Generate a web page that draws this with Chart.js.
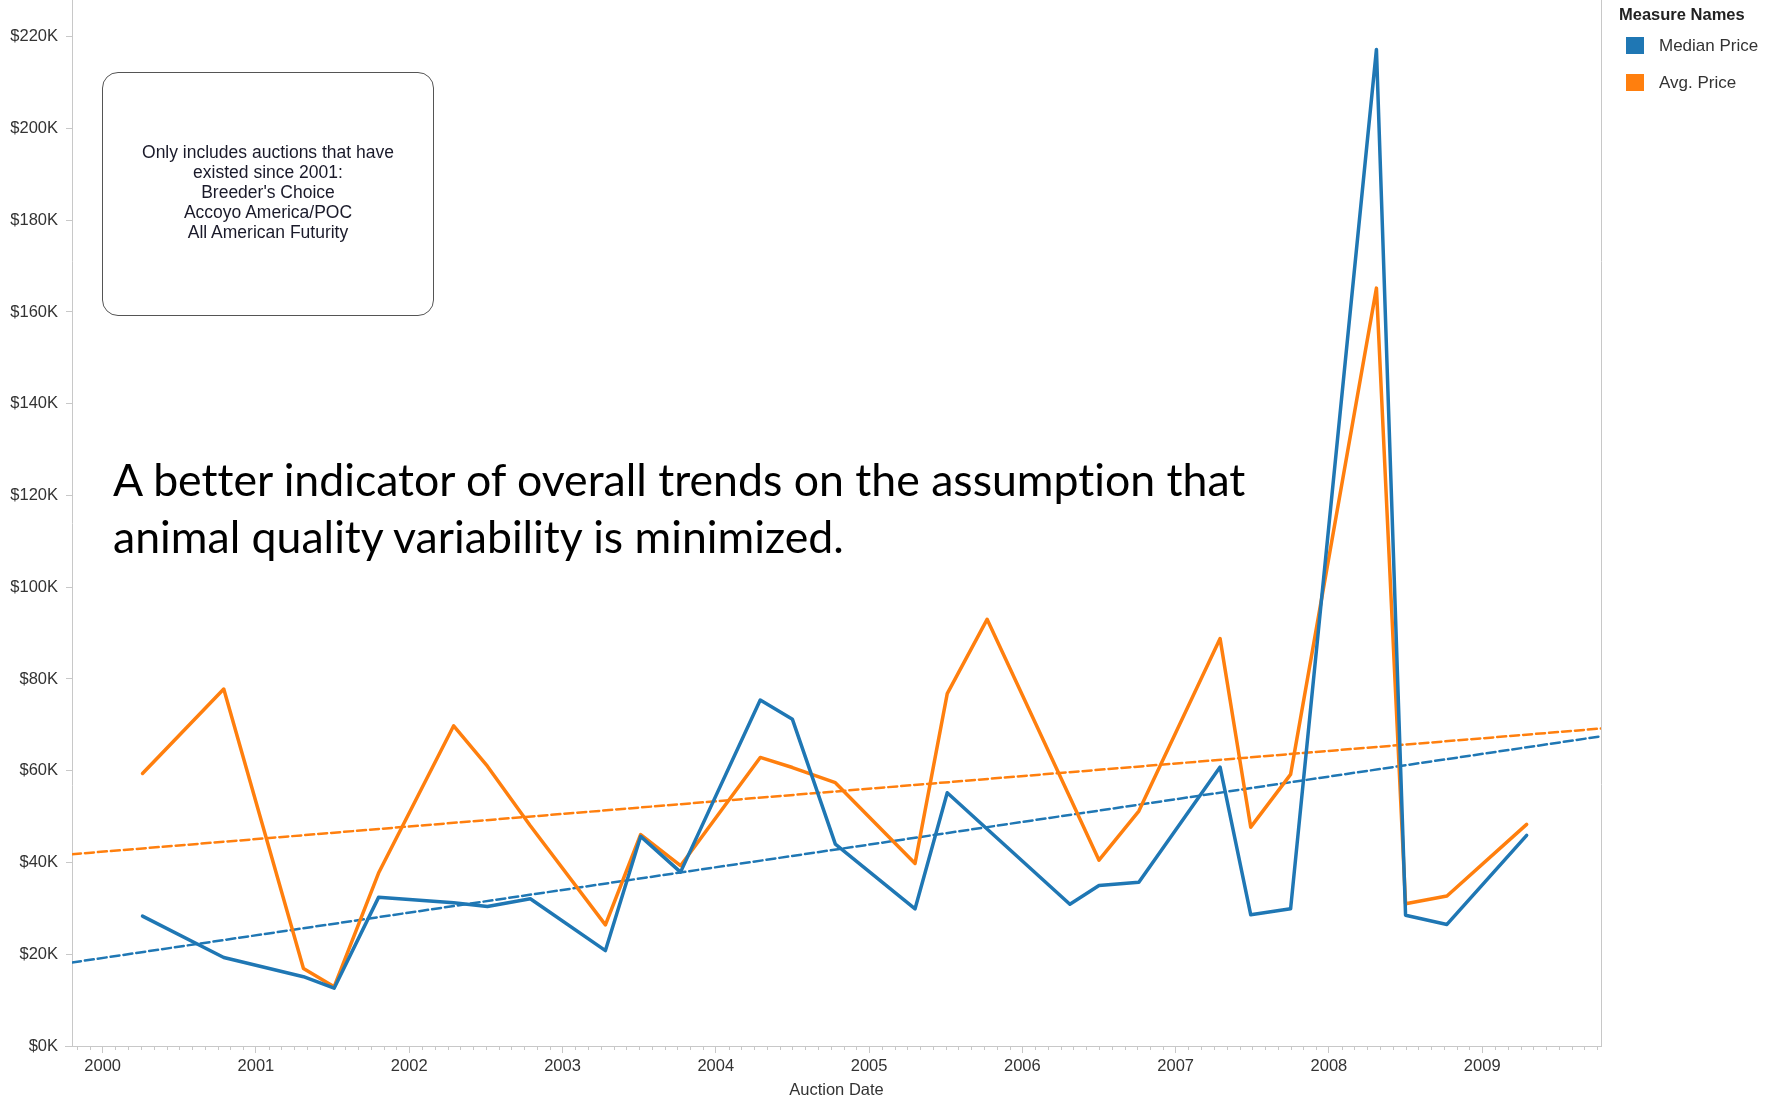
<!DOCTYPE html>
<html>
<head>
<meta charset="utf-8">
<script src="https://cdn.jsdelivr.net/npm/chart.js@4.4.1/dist/chart.umd.min.js"></script>
<style>
  html, body { margin: 0; padding: 0; background: #fff; }
  #wrap { position: relative; width: 1781px; height: 1101px; overflow: hidden; }
  #chart { position: absolute; left: 0; top: 0; }
  .note-box { position: absolute; left: 102px; top: 72px; width: 332px; height: 244px; box-sizing: border-box;
              border: 1.5px solid #555; border-radius: 16px; }
  .note-text { position: absolute; left: 102px; top: 142px; width: 332px; text-align: center;
               font: 17.5px 'Liberation Sans', Arial, sans-serif; line-height: 20px; color: #1a1a2a; }
  .big { position: absolute; left: 113px; font-family: Lato, 'Open Sans', sans-serif; color: #000; white-space: nowrap;
         font-variant-ligatures: none; font-feature-settings: "liga" 0; }
  .legend-title { position: absolute; left: 1619px; top: 4px; font: bold 16.5px 'Liberation Sans', Arial, sans-serif;
                  line-height: 20px; color: #222; }
  .legend-item { position: absolute; left: 1626px; height: 18px; font: 17px 'Liberation Sans', Arial, sans-serif;
                 line-height: 18px; color: #333; white-space: nowrap; }
  .legend-item span { display: inline-block; width: 18px; height: 17px; vertical-align: top; margin-right: 15px; }
</style>
</head>
<body>
<div id="wrap">
  <canvas id="chart" width="1781" height="1101"></canvas>
  <div class="note-box"></div>
  <div class="note-text">Only includes auctions that have<br>existed since 2001:<br>Breeder's Choice<br>Accoyo America/POC<br>All American Futurity</div>
  <div class="big" id="big1">A better indicator of overall trends on the assumption that</div>
  <div class="big" id="big2">animal quality variability is minimized.</div>
  <div class="legend-title">Measure Names</div>
  <div id="legend"></div>
</div>
<script>
// auction dates as decimal years
const auctionDates = [2000.26, 2000.79, 2001.31, 2001.51, 2001.80, 2002.29, 2002.51, 2002.79, 2003.28,
                      2003.51, 2003.77, 2004.29, 2004.50, 2004.78, 2005.30, 2005.51, 2005.77, 2006.31,
                      2006.50, 2006.76, 2007.29, 2007.49, 2007.75, 2008.31, 2008.50, 2008.77, 2009.29];
const medianPrice = [28300, 19300, 15100, 12600, 32400, 31200, 30400, 32100, 20800,
                     45700, 37900, 75400, 71200, 44000, 29900, 55200, 47300, 30900,
                     35000, 35700, 60800, 28600, 29900, 217200, 28500, 26500, 45900];
const avgPrice = [59400, 77800, 16900, 12900, 37700, 69800, 61000, 48000, 26400,
                  46100, 39300, 62900, 60700, 57400, 39800, 76800, 93000, 54200,
                  40500, 51200, 88800, 47700, 59200, 165200, 31000, 32700, 48300];

// trend lines, read at the left and right edge of the plot
const trendDates = [1999.80, 2009.775];
const medianTrend = [18200, 67500];
const avgTrend = [41800, 69200];

const yearTicks = [2000, 2001, 2002, 2003, 2004, 2005, 2006, 2007, 2008, 2009];
const priceTicks = [0, 20000, 40000, 60000, 80000, 100000, 120000, 140000, 160000, 180000, 200000, 220000];

const seriesNames = ['Median Price', 'Avg. Price'];
const seriesColors = ['#1f77b4', '#ff7f0e'];

const axisFont = { family: "'Liberation Sans', Arial, sans-serif", size: 16.5 };
const axisGray = '#c8c8c8';

const pts = (xs, ys) => xs.map((x, i) => ({ x: x, y: ys[i] }));

// monthly minor ticks, right frame line
const framePlugin = {
    id: 'frame',
    afterDraw(chart) {
        const { ctx, chartArea: a, scales: { x } } = chart;
        ctx.save();
        ctx.strokeStyle = axisGray;
        ctx.lineWidth = 1;
        ctx.beginPath();
        ctx.moveTo(a.right + 0.5, 0);
        ctx.lineTo(a.right + 0.5, a.bottom);
        ctx.moveTo(a.left - 7, a.bottom + 0.5);
        ctx.lineTo(a.right, a.bottom + 0.5);
        for (let yr = 1999; yr <= 2009; yr++) {
            for (let m = 1; m < 12; m++) {
                const v = yr + m / 12;
                if (v < x.min || v > x.max) continue;
                const px = Math.round(x.getPixelForValue(v)) + 0.5;
                ctx.moveTo(px, a.bottom);
                ctx.lineTo(px, a.bottom + 4);
            }
        }
        ctx.stroke();
        ctx.restore();
    }
};

const ctx = document.getElementById('chart').getContext('2d');
new Chart(ctx, {
    type: 'line',
    data: {
        datasets: [
            { label: seriesNames[0], data: pts(auctionDates, medianPrice), borderColor: seriesColors[0],
              borderWidth: 3.5, order: 0 },
            { label: seriesNames[1], data: pts(auctionDates, avgPrice), borderColor: seriesColors[1],
              borderWidth: 3.5, order: 1 },
            { label: 'Median trend', data: pts(trendDates, medianTrend), borderColor: seriesColors[0],
              borderWidth: 2.5, borderDash: [9, 4], order: 2 },
            { label: 'Avg trend', data: pts(trendDates, avgTrend), borderColor: seriesColors[1],
              borderWidth: 2.5, borderDash: [9, 4], order: 3 }
        ]
    },
    options: {
        responsive: false,
        animation: false,
        devicePixelRatio: 1,
        layout: { padding: { left: 0, right: 180, top: 0, bottom: 0 } },
        elements: {
            point: { radius: 0 },
            line: { tension: 0, fill: false, borderJoinStyle: 'round', borderCapStyle: 'round' }
        },
        plugins: { legend: { display: false }, tooltip: { enabled: false } },
        scales: {
            x: {
                type: 'linear',
                min: 1999.80,
                max: 2009.775,
                afterBuildTicks: s => { s.ticks = yearTicks.map(v => ({ value: v })); },
                afterFit: s => { s.height = 55; s.paddingLeft = 0; s.paddingRight = 0; },
                ticks: { callback: v => String(v), font: axisFont, color: '#333', padding: 4,
                         maxRotation: 0, autoSkip: false },
                grid: { drawOnChartArea: false, tickLength: 7, tickColor: axisGray },
                border: { color: axisGray },
                title: { display: true, text: 'Auction Date', font: axisFont, color: '#333',
                         padding: { top: 0, bottom: 1 } }
            },
            y: {
                min: 0,
                max: 228000,
                afterBuildTicks: s => { s.ticks = priceTicks.map(v => ({ value: v })); },
                afterFit: s => { s.width = 72; s.paddingTop = 0; s.paddingBottom = 0; },
                ticks: { callback: v => '$' + (v / 1000) + 'K', font: axisFont, color: '#333', padding: 8 },
                grid: { drawOnChartArea: false, tickLength: 6, tickColor: axisGray },
                border: { color: axisGray }
            }
        }
    },
    plugins: [framePlugin]
});

// legend
const legend = document.getElementById('legend');
const legendTops = [37, 74];
seriesNames.forEach((name, i) => {
    const d = document.createElement('div');
    d.className = 'legend-item';
    d.style.top = legendTops[i] + 'px';
    d.innerHTML = '<span style="background:' + seriesColors[i] + '"></span>' + name;
    legend.appendChild(d);
});

// fit the big note to its width in the reference
const mc = document.createElement('canvas').getContext('2d');
mc.font = "100px Lato";
const w1 = mc.measureText(document.getElementById('big1').textContent).width;
const size = 100 * 1136 / w1;
const lineH = 57;
[497, 554].forEach((base, i) => {
    const el = document.getElementById('big' + (i + 1));
    el.style.fontSize = size + 'px';
    el.style.lineHeight = lineH + 'px';
    el.style.top = (base - ((lineH - 1.2 * size) / 2 + 0.987 * size)) + 'px';
});
</script>
</body>
</html>
